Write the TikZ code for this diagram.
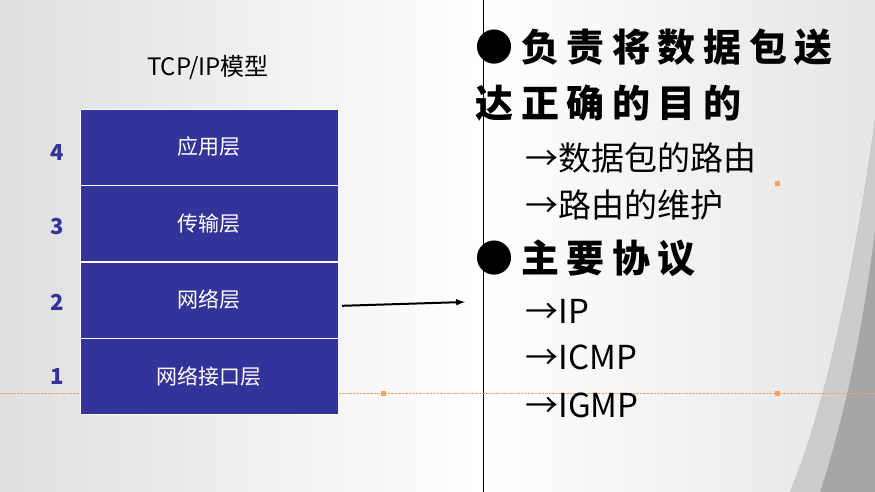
\documentclass[tikz,border=0pt]{standalone}
\usepackage{fontspec}
\setmainfont{Noto Sans CJK SC}
\usetikzlibrary{positioning, calc, arrows}
\definecolor{layerblue}{HTML}{333399}
\definecolor{dotorange}{HTML}{F4A460}
\tikzset{
  layer/.style={fill=layerblue, draw=white, minimum width=258pt, minimum height=76pt, text=white, font=\fontsize{21}{21}\selectfont, inner sep=0pt},
  num/.style={text=layerblue, font=\fontsize{22}{22}\selectfont\bfseries},
  head/.style={anchor=west, font=\fontsize{38}{38}\selectfont\bfseries\addfontfeature{LetterSpace=20}},
  item/.style={anchor=west, font=\fontsize{33}{33}\selectfont},
  handle/.style={fill=dotorange, minimum size=5pt, inner sep=0pt}
}
\begin{document}
\begin{tikzpicture}[x=1pt,y=-1pt]
  \useasboundingbox (0,0) rectangle (875,492);
  \shade[left color=gray!25, right color=white] (0,0) rectangle (483,492);
  \shade[left color=white, right color=gray!20] (483,0) rectangle (875,492);
  \fill[gray!70] (875,120) .. controls (850,300) and (820,420) .. (790,492) -- (875,492) -- cycle;
  \fill[gray!40] (875,230) .. controls (860,350) and (840,430) .. (820,492) -- (790,492) .. controls (820,420) and (850,300) .. (875,120) -- cycle;
  \draw[black] (483,0) -- (483,492);
  \draw[dotorange, densely dotted] (0,393) -- (875,393);
  \node[handle] (m1) at (383,393) {};
  \node[handle] (m2) at (777,393) {};
  \node[handle] (m3) at (777,183) {};
%
  \node (title) at (208,68) {\fontsize{24}{24}\selectfont TCP/IP模型};
  \node[layer] (L4) at (209,147) {应用层};
  \node[layer, below=0pt of L4] (L3) {传输层};
  \node[layer, below=0pt of L3] (L2) {网络层};
  \node[layer, below=0pt of L2] (L1) {网络接口层};
  \node[num] (n4) at (57,153) {4};
  \node[num] (n3) at (57,227) {3};
  \node[num] (n2) at (57,302) {2};
  \node[num] (n1) at (57,377) {1};
%
  \coordinate (tip) at (465,302);
  \coordinate (tail) at ($(L2.east)+(4,6)$);
  \draw[line width=2pt, -latex] (tail) -- (tip);
%
  \node[head] (h1) at (472,47) {●负责将数据包送};
  \node[head] (h2) at (472,103) {达正确的目的};
  \node[item] (i1) at (522,158) {→数据包的路由};
  \node[item] (i2) at (522,205) {→路由的维护};
  \node[head] (h3) at (472,258) {●主要协议};
  \node[item] (i3) at (522,311) {→IP};
  \node[item] (i4) at (522,357) {→ICMP};
  \node[item] (i5) at (522,405) {→IGMP};
\end{tikzpicture}
\end{document}
